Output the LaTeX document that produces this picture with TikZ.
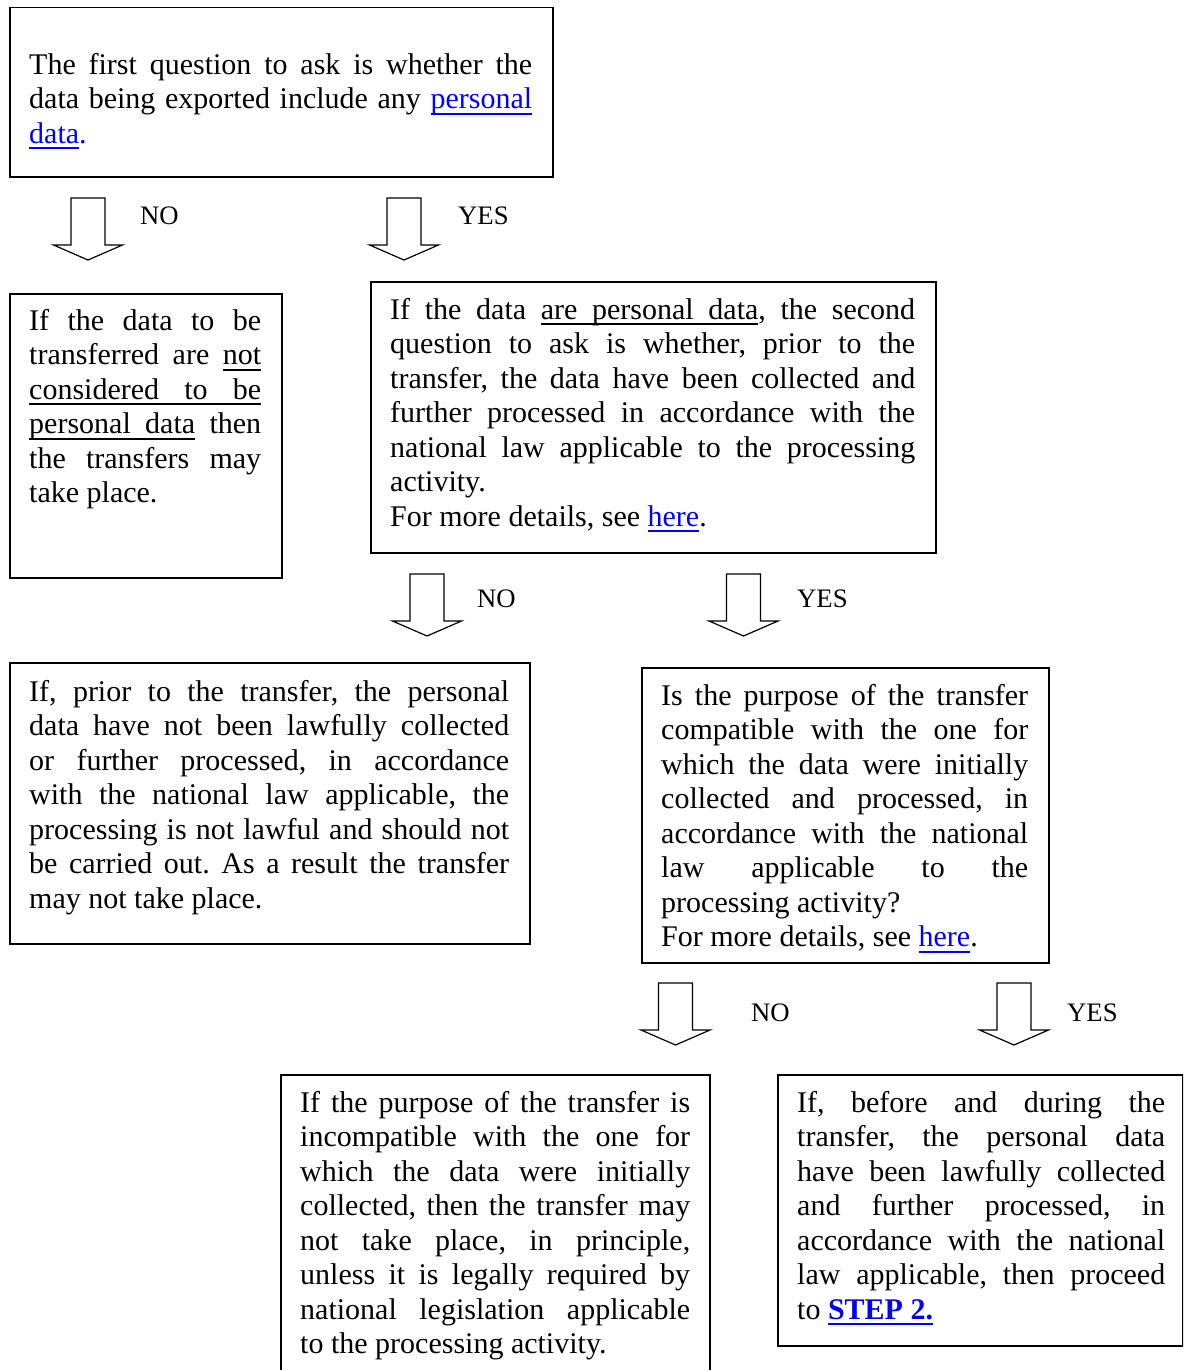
\documentclass[tikz,border=0pt]{standalone}
\usepackage{fontspec}
\setmainfont{Liberation Serif}
\usepackage{xcolor}
\definecolor{linkblue}{RGB}{0,0,255}
\newcommand\ulrule{\leaders\hrule height -4.2pt depth 5.9pt}
\newcommand\ulw[1]{\leavevmode\setbox0\hbox{#1}\rlap{\ulrule\hskip\wd0}\box0\relax}
\newcommand\uls{\ulrule\hskip\fontdimen2\font plus\fontdimen3\font minus\fontdimen4\font\relax}
\newcommand\lnk[1]{\textcolor{linkblue}{\ulw{#1}}}
\newcommand\txtsetup{\fontsize{30}{34.5}\selectfont\frenchspacing
  \hyphenpenalty=10000\relax\exhyphenpenalty=10000\relax
  \lefthyphenmin=64\relax\tolerance=10000\relax}
\setlength{\parindent}{0pt}
\hbadness=10000
\frenchspacing
\tikzset{
  box/.style={draw, line width=1.5pt, inner sep=0pt, anchor=north west},
  txt/.style={anchor=north west, inner sep=0pt, align=justify, font=\txtsetup},
  lbl/.style={anchor=base west, inner sep=0pt, font=\fontsize{26.7}{30}\selectfont},
  blockarrow/.pic={
    \draw[line width=1.2pt, line join=miter]
      (-17,0) -- (-17,47) -- (-34.5,47) -- (0,62) -- (34.5,47) -- (17,47) -- (17,0) -- cycle;
  }
}
\begin{document}
\begin{tikzpicture}[x=1pt, y=-1pt]
\clip (0,0) rectangle (1183,1370);

% boxes
\node[box, minimum width=543pt, minimum height=169pt] (b1) at (9,7) {};
\node[box, minimum width=272pt, minimum height=284pt] (b2) at (9,293) {};
\node[box, minimum width=565pt, minimum height=271pt] (b3) at (370,281) {};
\node[box, minimum width=520pt, minimum height=281pt] (b4) at (9,662) {};
\node[box, minimum width=407pt, minimum height=295pt] (b5) at (641,667) {};
\node[box, minimum width=429pt, minimum height=330pt] (b6) at (280,1074) {};
\node[box, minimum width=405pt, minimum height=271pt] (b7) at (777,1074) {};

% texts
\node[txt, text width=503pt] (t1) at ([shift={(20,42.85)}]b1.north west)
 {\strut The first question to ask is whether the\linebreak
  data being exported include any \lnk{personal}\linebreak
  \lnk{data}\textcolor{linkblue}{.}};

\node[txt, text width=232pt] (t2) at ([shift={(20,12.85)}]b2.north west)
 {\strut If the data to be\linebreak
  transferred are \ulw{not}\linebreak
  \ulw{considered}\uls\ulw{to}\uls\ulw{be}\linebreak
  \ulw{personal}\uls\ulw{data} then\linebreak
  the transfers may\linebreak
  take place.};

\node[txt, text width=525pt] (t3) at ([shift={(20,13.85)}]b3.north west)
 {\strut If the data \ulw{are}\uls\ulw{personal}\uls\ulw{data}, the second\linebreak
  question to ask is whether, prior to the\linebreak
  transfer, the data have been collected and\linebreak
  further processed in accordance with the\linebreak
  national law applicable to the processing\linebreak
  activity.\newline
  For more details, see \lnk{here}.};

\node[txt, text width=480pt] (t4) at ([shift={(20,14.85)}]b4.north west)
 {\strut If, prior to the transfer, the personal\linebreak
  data have not been lawfully collected\linebreak
  or further processed, in accordance\linebreak
  with the national law applicable, the\linebreak
  processing is not lawful and should not\linebreak
  be carried out. As a result the transfer\linebreak
  may not take place.};

\node[txt, text width=367pt] (t5) at ([shift={(20,13.85)}]b5.north west)
 {\strut Is the purpose of the transfer\linebreak
  compatible with the one for\linebreak
  which the data were initially\linebreak
  collected and processed, in\linebreak
  accordance with the national\linebreak
  law applicable to the\linebreak
  processing activity?\newline
  For more details, see \lnk{here}.};

\node[txt, text width=390pt] (t6) at ([shift={(20,13.85)}]b6.north west)
 {\strut If the purpose of the transfer is\linebreak
  incompatible with the one for\linebreak
  which the data were initially\linebreak
  collected, then the transfer may\linebreak
  not take place, in principle,\linebreak
  unless it is legally required by\linebreak
  national legislation applicable\linebreak
  to the processing activity.};

\node[txt, text width=368pt] (t7) at ([shift={(20,13.85)}]b7.north west)
 {\strut If, before and during the\linebreak
  transfer, the personal data\linebreak
  have been lawfully collected\linebreak
  and further processed, in\linebreak
  accordance with the national\linebreak
  law applicable, then proceed\linebreak
  to \lnk{\textbf{STEP 2.}}};

% block arrows
\coordinate (a1) at (88,198);
\coordinate (a2) at (404,198);
\coordinate (a3) at (427,574);
\coordinate (a4) at (743.5,574);
\coordinate (a5) at (675.5,983);
\coordinate (a6) at (1014,983);
\foreach \c in {a1,a2,a3,a4,a5,a6} { \pic at (\c) {blockarrow}; }

% labels
\node[lbl] (l1) at (140,224) {NO};
\node[lbl] (l2) at (458,224) {YES};
\node[lbl] (l3) at (477,607) {NO};
\node[lbl] (l4) at (797,607) {YES};
\node[lbl] (l5) at (751,1021) {NO};
\node[lbl] (l6) at (1067,1021) {YES};
\end{tikzpicture}
\end{document}
